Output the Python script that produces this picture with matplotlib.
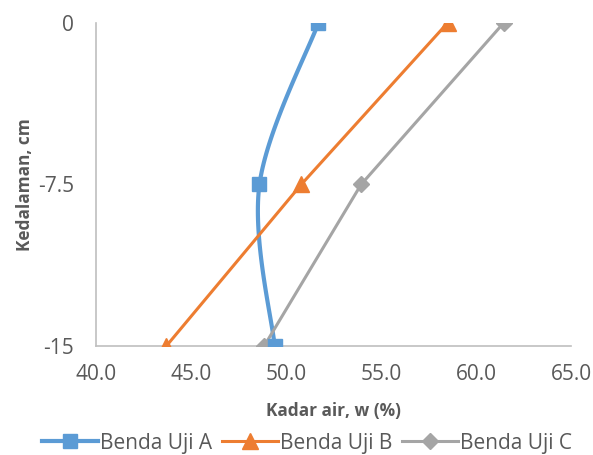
import numpy as np
import matplotlib.pyplot as plt
from matplotlib.lines import Line2D

# kedalaman (cm) dan kadar air (%) tiap benda uji
depth = [0, -7.5, -15]
w_a = [51.7, 48.6, 49.4]
w_b = [58.5, 50.8, 43.7]
w_c = [61.45, 53.95, 48.85]
x_ticks = [40.0, 45.0, 50.0, 55.0, 60.0, 65.0]
y_ticks = [0, -7.5, -15]
y_labels = ['0', '-7.5', '-15']


def smooth(xs, ys, n=40):
    # garis halus gaya excel (bezier kubik, tension 1/6)
    p = np.column_stack([xs, ys]).astype(float)
    ext = np.vstack([p[0], p, p[-1]])
    out = []
    for i in range(len(p) - 1):
        p0, p1, p2, p3 = ext[i], ext[i + 1], ext[i + 2], ext[i + 3]
        c1 = p1 + (p2 - p0) / 6
        c2 = p2 - (p3 - p1) / 6
        t = np.linspace(0, 1, n)[:, None]
        seg = ((1 - t) ** 3) * p1 + 3 * ((1 - t) ** 2) * t * c1 + 3 * (1 - t) * t ** 2 * c2 + t ** 3 * p2
        out.append(seg)
    seg = np.vstack(out)
    return seg[:, 0], seg[:, 1]


plt.rcParams['font.family'] = ['Open Sans', 'DejaVu Sans']
fig = plt.figure(figsize=(5.93, 4.55), dpi=100)
ax = fig.add_axes([0.162, 0.2396, 0.801, 0.7099])

sx, sy = smooth(w_a, depth)
ax.plot(sx, sy, color='#5B9BD5', lw=3, solid_capstyle='round', zorder=3)
ax.plot(w_a, depth, ls='none', marker='s', ms=10.5, color='#5B9BD5', zorder=4)
ax.plot(w_b, depth, color='#ED7D31', lw=2.2, marker='^', ms=11, zorder=3)
ax.plot(w_c, depth, color='#A5A5A5', lw=2.2, marker='D', ms=8, zorder=3)

# legenda dibuat manual supaya garis A ikut tebal
handles = [Line2D([], [], color='#5B9BD5', lw=3, marker='s', ms=10.5),
           Line2D([], [], color='#ED7D31', lw=2.2, marker='^', ms=11),
           Line2D([], [], color='#A5A5A5', lw=2.2, marker='D', ms=8)]
fig.legend(handles, ['Benda Uji A', 'Benda Uji B', 'Benda Uji C'],
           loc='center', bbox_to_anchor=(0.518, 0.026), ncol=3, frameon=False,
           fontsize=15, handlelength=2.7, handletextpad=0.1, columnspacing=0.45,
           labelcolor='#595959', borderpad=0)

ax.set_xlim(40, 65)
ax.set_ylim(-15, 0)
ax.set_xticks(x_ticks)
ax.set_xticklabels(['%.1f' % v for v in x_ticks])
ax.set_yticks(y_ticks)
ax.set_yticklabels(y_labels)
ax.tick_params(length=0, labelsize=15, labelcolor='#595959', pad=13)
ax.tick_params(axis='y', pad=16)
for s in ['top', 'right']:
    ax.spines[s].set_visible(False)
for s in ['left', 'bottom']:
    ax.spines[s].set_color('#BFBFBF')
    ax.spines[s].set_linewidth(1.2)
ax.set_xlabel('Kadar air, w (%)', fontsize=12.4, fontweight='bold', color='#595959', labelpad=12)
ax.set_ylabel('Kedalaman, cm', fontsize=12.4, fontweight='bold', color='#595959', labelpad=3)

fig.savefig('out.png', dpi=100)
